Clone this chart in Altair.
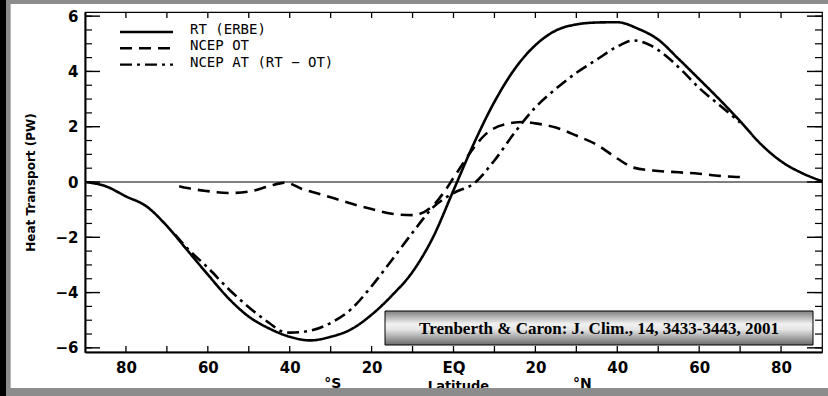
import altair as alt
import pandas as pd

# ---------------- data ----------------
series_names = ["RT (ERBE)", "NCEP OT", "NCEP AT (RT − OT)"]

rt_lat = [-90, -85, -80, -75, -70, -65, -60, -55, -50, -45, -40, -35, -30, -25, -20, -15, -10, -5,
          0, 5, 10, 15, 20, 25, 30, 35, 40, 45, 50, 55, 60, 65, 70, 75, 80, 85, 90]
rt_val = [0.0, -0.15, -0.52, -0.88, -1.59, -2.47, -3.35, -4.2, -4.87, -5.3, -5.6, -5.73, -5.6, -5.33,
          -4.8, -4.1, -3.25, -2.0, -0.3, 1.4, 2.9, 4.1, 4.95, 5.48, 5.7, 5.77, 5.78, 5.55, 5.15, 4.45,
          3.72, 2.98, 2.2, 1.38, 0.75, 0.33, 0.03]

ot_lat = [-67, -65, -60, -55, -50, -45, -41, -37, -30, -25, -20, -15, -10, -5, -2, 0, 2, 5, 8, 13,
          17, 20, 25, 30, 35, 40, 44, 50, 55, 60, 65, 70]
ot_val = [-0.15, -0.22, -0.33, -0.40, -0.35, -0.15, -0.02, -0.25, -0.55, -0.78, -0.98, -1.15, -1.2,
          -0.85, -0.3, 0.15, 0.6, 1.25, 1.75, 2.1, 2.17, 2.12, 1.97, 1.68, 1.35, 0.85, 0.52, 0.4,
          0.35, 0.3, 0.22, 0.18]

at_lat = [-68, -65, -60, -55, -50, -45, -42, -40, -35, -30, -25, -20, -15, -10, -5, 0, 5, 10, 15,
          20, 25, 30, 35, 40, 44, 48, 52, 56, 60, 65, 70]
at_val = [-1.9, -2.4, -3.1, -3.86, -4.53, -5.1, -5.4, -5.45, -5.38, -5.1, -4.6, -3.77, -2.81, -1.83,
          -0.92, -0.4, -0.05, 0.78, 1.8, 2.7, 3.37, 3.95, 4.43, 4.9, 5.12, 4.95, 4.55, 4.0, 3.4,
          2.78, 2.15]

x_label_ticks = [-80, -60, -40, -20, 0, 20, 40, 60, 80]
x_minor_ticks = [-80, -70, -60, -50, -40, -30, -20, -10, 0, 10, 20, 30, 40, 50, 60, 70, 80]
y_label_ticks = [-6, -4, -2, 0, 2, 4, 6]
y_minor_ticks = [v / 2 for v in range(-12, 13)]

hemi_lat = [-29.5, 31.5]
hemi_text = ["°S", "°N"]

citation = "Trenberth & Caron: J. Clim., 14, 3433-3443, 2001"

# ---------------- layout ----------------
W, H = 737, 340
BAND = "#8c8c8c"

df = pd.concat([
    pd.DataFrame({"lat": rt_lat, "value": rt_val, "series": series_names[0]}),
    pd.DataFrame({"lat": ot_lat, "value": ot_val, "series": series_names[1]}),
    pd.DataFrame({"lat": at_lat, "value": at_val, "series": series_names[2]}),
], ignore_index=True)

xscale = alt.Scale(domain=[-90, 90], nice=False, zero=False)
yscale = alt.Scale(domain=[-6.15, 6.15], nice=False, zero=False)
dash_scale = alt.Scale(domain=series_names, range=[[1, 0], [12, 7], [12, 5, 3, 5]])

xaxis = alt.Axis(values=x_label_ticks, ticks=False, grid=False,
                 labelExpr="datum.value == 0 ? 'EQ' : format(abs(datum.value), 'd')",
                 domainColor="black", domainWidth=2,
                 labelFont="DejaVu Sans", labelFontWeight="bold", labelFontSize=15,
                 labelColor="black", labelPadding=8, labelFlush=False, labelOverlap=False,
                 title="Latitude", titleFont="DejaVu Sans", titleFontWeight="bold",
                 titleFontSize=13, titleColor="black", titleX=373, titleY=33.5,
                 titleAlign="center", titleBaseline="middle")
yaxis = alt.Axis(values=y_label_ticks, ticks=False, grid=False,
                 domainColor="black", domainWidth=2,
                 labelFont="DejaVu Sans", labelFontWeight="bold", labelFontSize=15,
                 labelColor="black", labelPadding=7, labelFlush=False, labelOverlap=False,
                 title="Heat Transport (PW)", titleFont="DejaVu Sans", titleFontWeight="bold",
                 titleFontSize=12, titleColor="black", titleAngle=270, titleX=-55, titleY=170,
                 titleAlign="center", titleBaseline="middle")

lines = alt.Chart(df).mark_line(color="black", strokeWidth=2.6, interpolate="monotone").encode(
    x=alt.X("lat:Q", scale=xscale, axis=xaxis),
    y=alt.Y("value:Q", scale=yscale, axis=yaxis),
    strokeDash=alt.StrokeDash("series:N", scale=dash_scale, legend=None),
)

zero_line = alt.Chart(pd.DataFrame({"value": [0]})).mark_rule(color="black", strokeWidth=1.2).encode(
    y="value:Q")

xm = pd.DataFrame({"lat": x_minor_ticks})
bottom_ticks = alt.Chart(xm).mark_rule(color="black", strokeWidth=1.3).encode(
    x="lat:Q", y=alt.value(H), y2=alt.value(H - 6))
top_ticks = alt.Chart(xm).mark_rule(color="black", strokeWidth=1.3).encode(
    x="lat:Q", y=alt.value(0), y2=alt.value(6))

ym = pd.DataFrame({"value": y_minor_ticks})
yM = pd.DataFrame({"value": y_label_ticks})
left_minor = alt.Chart(ym).mark_rule(color="black", strokeWidth=1.2).encode(
    y="value:Q", x=alt.value(0), x2=alt.value(7))
left_major = alt.Chart(yM).mark_rule(color="black", strokeWidth=1.4).encode(
    y="value:Q", x=alt.value(0), x2=alt.value(15))
right_minor = alt.Chart(ym).mark_rule(color="black", strokeWidth=1.2).encode(
    y="value:Q", x=alt.value(W), x2=alt.value(W - 7))
right_major = alt.Chart(yM).mark_rule(color="black", strokeWidth=1.4).encode(
    y="value:Q", x=alt.value(W), x2=alt.value(W - 15))

# legend drawn by hand (line samples + labels)
legend_layers = []
for i, name in enumerate(series_names):
    one = pd.DataFrame({"series": [name]})
    legend_layers.append(alt.Chart(one).mark_rule(color="black", strokeWidth=2.4).encode(
        x=alt.value(35), x2=alt.value(88), y=alt.value(20 + 16.3 * i),
        strokeDash=alt.StrokeDash("series:N", scale=dash_scale, legend=None)))
    legend_layers.append(alt.Chart(one).mark_text(
        align="left", baseline="middle", font="DejaVu Sans Mono", fontSize=14, color="black").encode(
        x=alt.value(105), y=alt.value(18 + 16.3 * i), text="series:N"))

hemi = alt.Chart(pd.DataFrame({"lat": hemi_lat, "label": hemi_text})).mark_text(
    font="DejaVu Sans", fontWeight="bold", fontSize=14, color="black", baseline="middle").encode(
    x="lat:Q", y=alt.value(H + 32), text="label:N")

single = pd.DataFrame({"k": [0]})
grad = alt.Gradient(gradient="linear", x1=0, y1=0, x2=0, y2=1, stops=[
    alt.GradientStop(color="#7e7e7e", offset=0),
    alt.GradientStop(color="#f2f2f2", offset=0.38),
    alt.GradientStop(color="#e4e4e4", offset=0.55),
    alt.GradientStop(color="#6a6a6a", offset=1),
])
cite_box = alt.Chart(single).mark_rect(fill=grad, stroke="black", strokeWidth=1).encode(
    x=alt.value(300), x2=alt.value(728), y=alt.value(299), y2=alt.value(333))
cite_text = alt.Chart(single).mark_text(
    font="Liberation Serif", fontWeight="bold", fontSize=17, color="black", baseline="middle").encode(
    x=alt.value(514), y=alt.value(317), text=alt.value(citation))

# outer frame bands (drawn over axis text, like the cropped original)
top_band = alt.Chart(single).mark_rect(color=BAND).encode(
    x=alt.value(-85), x2=alt.value(W + 6), y=alt.value(-12), y2=alt.value(-8))
bottom_band = alt.Chart(single).mark_rect(color=BAND).encode(
    x=alt.value(-85), x2=alt.value(W + 6), y=alt.value(H + 36), y2=alt.value(H + 44))
left_gray = alt.Chart(single).mark_rect(color=BAND).encode(
    x=alt.value(-79), x2=alt.value(-74), y=alt.value(-12), y2=alt.value(H + 44))
left_light = alt.Chart(single).mark_rect(color="#b8b8b8").encode(
    x=alt.value(-75), x2=alt.value(-74), y=alt.value(-8), y2=alt.value(H + 36))
left_black = alt.Chart(single).mark_rect(color="black").encode(
    x=alt.value(-85), x2=alt.value(-79), y=alt.value(-12), y2=alt.value(H + 44))

chart = alt.layer(
    lines, zero_line, bottom_ticks, top_ticks, left_minor, left_major, right_minor, right_major,
    *legend_layers, hemi, cite_box, cite_text,
    top_band, bottom_band, left_gray, left_light, left_black,
).properties(
    width=W, height=H,
    padding={"left": 85, "top": 12, "right": 6, "bottom": 44},
    autosize=alt.AutoSizeParams(type="none"),
).configure(background="white").configure_view(stroke="black", strokeWidth=1.2)

chart.save("out.html", embed_options={"renderer": "svg", "actions": False})
